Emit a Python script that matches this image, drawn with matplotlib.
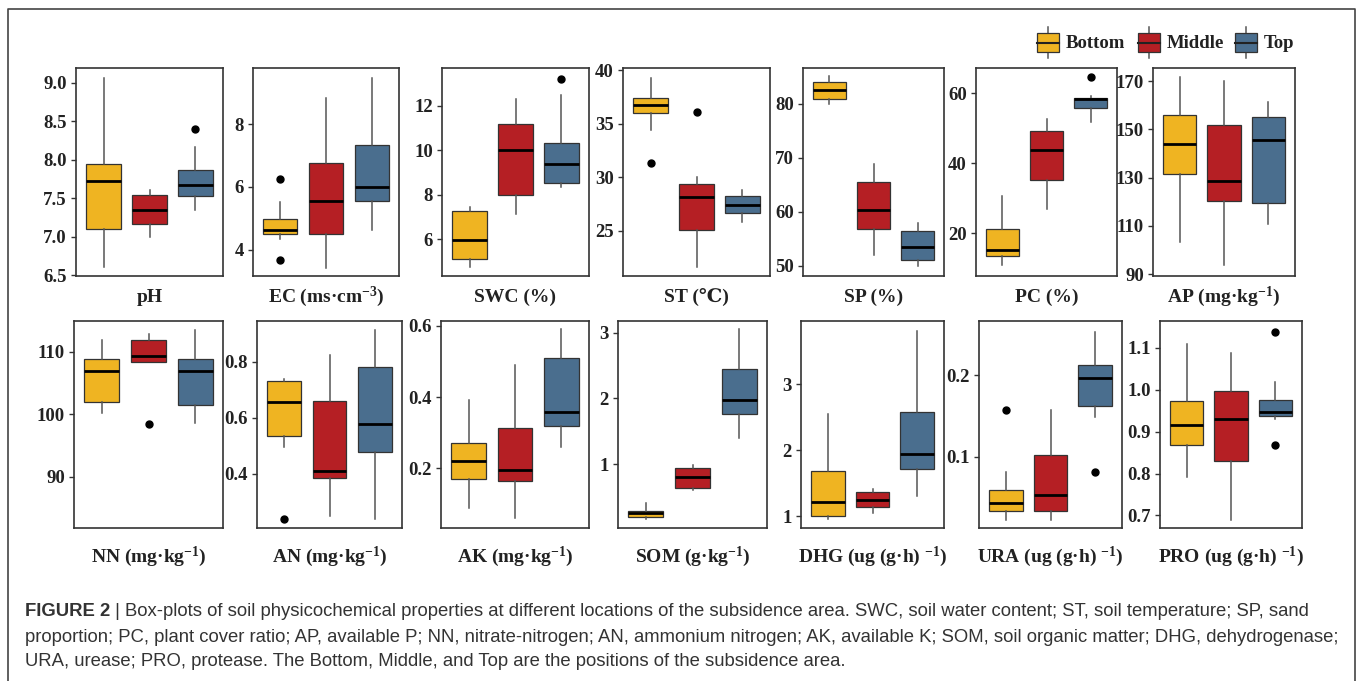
import matplotlib
matplotlib.use("Agg")
import matplotlib.pyplot as plt
from matplotlib.patches import Rectangle

plt.rcParams['font.family'] = ['Liberation Serif', 'DejaVu Serif', 'DejaVu Sans']
plt.rcParams['font.weight'] = 'bold'
plt.rcParams['mathtext.fontset'] = 'custom'
plt.rcParams['mathtext.rm'] = 'Liberation Serif:bold'
plt.rcParams['mathtext.bf'] = 'Liberation Serif:bold'
plt.rcParams['mathtext.it'] = 'Liberation Serif:bold'
plt.rcParams['mathtext.default'] = 'rm'

# Posiciones y colores
groups = ["Bottom", "Middle", "Top"]
colors = ["#EFB422", "#B51F24", "#4A6E8E"]

# Estadisticos: [whislo, q1, med, q3, whishi]
ph = [[6.61, 7.10, 7.72, 7.94, 9.06], [6.99, 7.17, 7.35, 7.54, 7.60], [7.35, 7.53, 7.67, 7.86, 8.17]]
ph_out = [[], [], [8.40]]
ec = [[4.36, 4.50, 4.64, 4.97, 5.51], [3.43, 4.49, 5.56, 6.76, 8.84], [4.64, 5.56, 6.00, 7.34, 9.46]]
ec_out = [[6.26, 3.67], [], []]
swc = [[4.75, 5.10, 5.98, 7.28, 7.46], [7.13, 8.00, 10.00, 11.19, 12.30], [8.33, 8.51, 9.38, 10.33, 12.50]]
swc_out = [[], [], [13.22]]
st = [[34.44, 36.00, 36.75, 37.41, 39.28], [21.63, 25.06, 28.13, 29.38, 30.06], [25.84, 26.69, 27.41, 28.25, 28.81]]
st_out = [[31.31], [36.09], []]
sp = [[79.94, 80.86, 82.53, 83.95, 85.06], [52.04, 56.91, 60.43, 65.49, 68.90], [50.06, 51.05, 53.52, 56.54, 58.02]]
sp_out = [[], [], []]
pc = [[10.95, 13.52, 15.24, 21.14, 30.67], [26.86, 35.33, 43.62, 49.14, 52.57], [51.81, 55.62, 58.29, 58.48, 59.24]]
pc_out = [[], [], [64.57]]
ap = [[103.2, 131.7, 143.8, 156.1, 171.8], [93.7, 120.5, 128.6, 151.8, 170.0], [110.6, 119.4, 145.7, 155.0, 161.3]]
ap_out = [[], [], []]
nn = [[100.24, 101.99, 106.98, 108.83, 111.90], [108.36, 108.36, 109.36, 111.96, 112.90], [98.59, 101.46, 106.98, 108.83, 113.45]]
nn_out = [[], [98.49], []]
an = [[0.496, 0.536, 0.656, 0.731, 0.740], [0.251, 0.384, 0.412, 0.661, 0.823], [0.239, 0.478, 0.579, 0.782, 0.913]]
an_out = [[0.239], [], []]
ak = [[0.089, 0.169, 0.221, 0.272, 0.391], [0.059, 0.165, 0.195, 0.314, 0.489], [0.259, 0.319, 0.357, 0.510, 0.591]]
ak_out = [[], [], []]
som = [[0.168, 0.194, 0.250, 0.286, 0.408], [0.612, 0.628, 0.796, 0.934, 0.985], [1.393, 1.765, 1.974, 2.454, 3.060]]
som_out = [[], [], []]
dhg = [[0.96, 1.00, 1.213, 1.684, 2.554], [1.051, 1.137, 1.238, 1.365, 1.415], [1.304, 1.709, 1.937, 2.585, 3.81]]
dhg_out = [[], [], []]
ura = [[0.023, 0.034, 0.043, 0.0598, 0.0816], [0.023, 0.034, 0.0533, 0.102, 0.158], [0.149, 0.163, 0.197, 0.2123, 0.2537]]
ura_out = [[0.157], [], [0.0816]]
pro = [[0.792, 0.869, 0.916, 0.974, 1.110], [0.690, 0.829, 0.930, 0.998, 1.088], [0.929, 0.938, 0.946, 0.976, 1.019]]
pro_out = [[], [], [1.138, 0.867]]

labels = ["pH", r"EC (ms·cm$^{-3}$)", "SWC (%)", "ST (℃)", "SP (%)", "PC (%)", r"AP (mg·kg$^{-1}$)",
          r"NN (mg·kg$^{-1}$)", r"AN (mg·kg$^{-1}$)", r"AK (mg·kg$^{-1}$)", r"SOM (g·kg$^{-1}$)",
          r"DHG (ug (g·h) $^{-1}$)", r"URA (ug (g·h) $^{-1}$)", r"PRO (ug (g·h) $^{-1}$)"]
stats = [ph, ec, swc, st, sp, pc, ap, nn, an, ak, som, dhg, ura, pro]
outliers = [ph_out, ec_out, swc_out, st_out, sp_out, pc_out, ap_out, nn_out, an_out, ak_out, som_out, dhg_out, ura_out, pro_out]
ylims = [(6.49, 9.19), (3.17, 9.78), (4.35, 13.70), (20.78, 40.22), (48.15, 86.6), (7.81, 67.14), (89.2, 175.5),
         (81.78, 114.93), (0.207, 0.946), (0.032, 0.614), (0.026, 3.18), (0.82, 3.96), (0.0127, 0.2668), (0.670, 1.164)]
yticks = [[6.5, 7.0, 7.5, 8.0, 8.5, 9.0], [4, 6, 8], [6, 8, 10, 12], [25, 30, 35, 40], [50, 60, 70, 80],
          [20, 40, 60], [90, 110, 130, 150, 170], [90, 100, 110], [0.4, 0.6, 0.8], [0.2, 0.4, 0.6],
          [1, 2, 3], [1, 2, 3], [0.1, 0.2], [0.7, 0.8, 0.9, 1.0, 1.1]]
ytick_labels = [["6.5", "7.0", "7.5", "8.0", "8.5", "9.0"], ["4", "6", "8"], ["6", "8", "10", "12"],
                ["25", "30", "35", "40"], ["50", "60", "70", "80"], ["20", "40", "60"],
                ["90", "110", "130", "150", "170"], ["90", "100", "110"], ["0.4", "0.6", "0.8"],
                ["0.2", "0.4", "0.6"], ["1", "2", "3"], ["1", "2", "3"], ["0.1", "0.2"],
                ["0.7", "0.8", "0.9", "1.0", "1.1"]]

# Caja de cada panel en pixeles (izq, der)
W, H = 1358, 681
cols_top = [(76, 223), (253, 399), (442, 589), (623, 770), (803, 944), (976, 1117), (1153, 1295)]
cols_bot = [(74, 223), (257, 402), (441, 589), (618, 767), (801, 944), (979, 1122), (1160, 1302)]

fig = plt.figure(figsize=(W / 100, H / 100), dpi=100)

# capa de fondo para marco, leyenda y pie
bg = fig.add_axes([0, 0, 1, 1])
bg.set_xlim(0, W)
bg.set_ylim(H, 0)
bg.axis('off')
bg.plot([7.5, 7.5, 1355, 1355], [H + 5, 8.5, 8.5, H + 5], color='#444444', lw=1.2)

for i in range(14):
    if i < 7:
        x0, x1 = cols_top[i]
        y0, y1 = 68, 276
        lab_off = 26
    else:
        x0, x1 = cols_bot[i - 7]
        y0, y1 = 321, 528
        lab_off = 34
    ax = fig.add_axes([x0 / W, 1 - y1 / H, (x1 - x0) / W, (y1 - y0) / H])
    bstats = []
    for j in range(3):
        s = stats[i][j]
        bstats.append({'whislo': s[0], 'q1': s[1], 'med': s[2], 'q3': s[3], 'whishi': s[4],
                       'fliers': outliers[i][j]})
    bp = ax.bxp(bstats, positions=[1, 2, 3], widths=0.75, patch_artist=True, showcaps=False,
                boxprops=dict(edgecolor='#333333', linewidth=0.9),
                whiskerprops=dict(color='#555555', linewidth=1.1),
                medianprops=dict(color='black', linewidth=2.0),
                flierprops=dict(marker='o', markerfacecolor='black', markeredgecolor='black', markersize=5))
    for patch, c in zip(bp['boxes'], colors):
        patch.set_facecolor(c)
    ax.set_xlim(0.4, 3.6)
    ax.set_ylim(*ylims[i])
    ax.set_yticks(yticks[i])
    ax.set_yticklabels(ytick_labels[i], fontsize=13.5, fontweight='bold', color='#222222')
    ax.set_xticks([])
    ax.tick_params(axis='y', length=3.5, width=1, pad=3, color='#333333')
    for sp_ in ax.spines.values():
        sp_.set_color('#333333')
        sp_.set_linewidth(1.2)
    ax.annotate(labels[i], xy=(0.5, 0), xycoords='axes fraction', xytext=(0, -lab_off * 0.72),
                textcoords='offset points', ha='center', va='baseline', fontsize=14, fontweight='bold',
                color='#222222')

# Leyenda
key_x = [1037, 1138, 1235]
for c, g, kx in zip(colors, groups, key_x):
    bg.plot([kx + 11, kx + 11], [27, 58], color='#555555', lw=1.1, zorder=1)
    bg.add_patch(Rectangle((kx, 33), 22, 19, facecolor=c, edgecolor='#333333', lw=0.9, zorder=2))
    bg.plot([kx, kx + 22], [42.5, 42.5], color='#222222', lw=1.5, zorder=3)
    bg.text(kx + 29, 43, g, fontsize=13.5, fontweight='bold', va='center', ha='left', color='#222222')

# Pie de figura
cap_font = dict(family=['Liberation Sans', 'DejaVu Sans'], fontsize=13.3, color='#333333')
t1 = bg.text(25, 611, "FIGURE 2", fontweight='bold', va='center', ha='left', **cap_font)
fig.canvas.draw()
r = fig.canvas.get_renderer()
bb = t1.get_window_extent(renderer=r)
bg.text(25 + bb.width, 611, " | Box-plots of soil physicochemical properties at different locations of the subsidence area. SWC, soil water content; ST, soil temperature; SP, sand",
        fontweight='normal', va='center', ha='left', **cap_font)
bg.text(25, 637, "proportion; PC, plant cover ratio; AP, available P; NN, nitrate-nitrogen; AN, ammonium nitrogen; AK, available K; SOM, soil organic matter; DHG, dehydrogenase;",
        fontweight='normal', va='center', ha='left', **cap_font)
bg.text(25, 662, "URA, urease; PRO, protease. The Bottom, Middle, and Top are the positions of the subsidence area.",
        fontweight='normal', va='center', ha='left', **cap_font)

fig.savefig("out.png", dpi=100)
